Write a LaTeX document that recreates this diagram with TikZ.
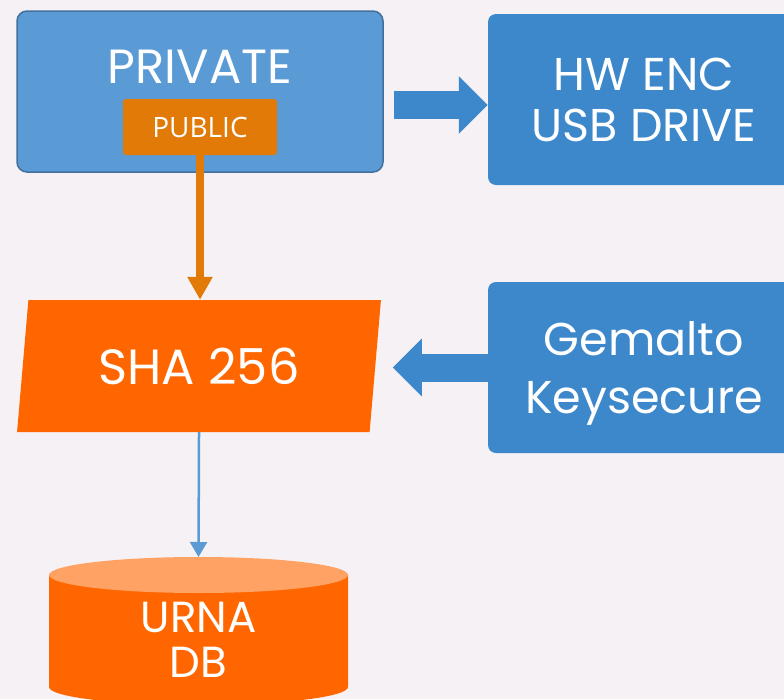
\documentclass[tikz,border=0pt]{standalone}
\usepackage{fontspec}
\setmainfont{Poppins}
\newfontfamily\pubfont{Open Sans}
\usetikzlibrary{shapes.geometric, arrows.meta, positioning, calc}
\definecolor{bgGray}{RGB}{246,241,245}
\definecolor{keyBlue}{RGB}{91,155,213}
\definecolor{keyBorder}{RGB}{65,113,156}
\definecolor{devBlue}{RGB}{61,135,203}
\definecolor{pubOrange}{RGB}{226,122,8}
\definecolor{hashOrange}{RGB}{255,102,0}
\definecolor{dbTop}{RGB}{255,162,100}

\begin{document}
\begin{tikzpicture}[
        x=1pt, y=-1pt,
        keybox/.style={rectangle, rounded corners=10pt, draw=keyBorder, line width=1.5pt, fill=keyBlue, minimum width=366pt, minimum height=161pt},
        pubbox/.style={rectangle, rounded corners=3pt, fill=pubOrange, minimum width=154pt, minimum height=56pt, text=white, font=\pubfont\fontsize{28}{32}\selectfont},
        devbox/.style={rectangle, rounded corners=8pt, fill=devBlue, minimum width=312pt, minimum height=171pt, align=center, text=white},
        hashbox/.style={trapezium, trapezium left angle=81, trapezium right angle=99, trapezium stretches=true, fill=hashOrange, minimum width=364pt, minimum height=132pt, text=white, font=\fontsize{49.5}{56}\selectfont},
        bigtext/.style={text=white, align=center, inner sep=0pt, font=\fontsize{48}{52}\selectfont},
        blockarrow/.style={devBlue, line width=28pt, -{Triangle[length=29pt, width=56pt]}},
        pubarrow/.style={pubOrange, line width=8pt, -{Triangle[length=23pt, width=24pt]}},
        dbarrow/.style={keyBlue, line width=2.5pt, -{Triangle[length=15pt, width=17pt]}}
    ]
        \useasboundingbox (0,0) rectangle (784,699);
        \fill[bgGray] (0,0) rectangle (784,699);
        \clip (0,0) rectangle (784,699);

        % Keys
        \node[keybox] (priv) at (200,91.5) {};
        \node[bigtext] (privlabel) at ($(priv.north)+(0,56.5)$) {PRIVATE};
        \node[pubbox] (pub) at (200,127) {PUBLIC};

        % Devices
        \node[devbox, font=\fontsize{46}{51}\selectfont] (hw) at (644,99.5) {HW ENC\\USB DRIVE};
        \node[devbox, text depth=0pt, font=\fontsize{46}{58}\selectfont] (gem) at (644,367.5) {Gemalto\\Keysecure};

        % Hash
        \node[hashbox] (sha) at (199,366) {SHA 256};

        % Database
        \fill[hashOrange] (49,575) -- (49,687) arc[start angle=180, end angle=0, x radius=149.5, y radius=18] -- (348,575) -- cycle;
        \fill[dbTop] (198.5,575) ellipse[x radius=149.5, y radius=18];
        \coordinate (dbtop) at (198.5,557);
        \node[bigtext, font=\fontsize{43.5}{45}\selectfont] (db) at (198.5,640) {URNA\\DB};

        % Arrows
        \draw[pubarrow] (pub.south) -- (pub.south |- sha.north);
        \draw[dbarrow] (sha.south) -- (dbtop);
        \draw[blockarrow] ($(priv.east |- hw.west)+(10,5.5)$) -- ($(hw.west)+(0,5.5)$);
        \draw[blockarrow] (gem.west) -- ($(gem.west)+(-95,0)$);
    \end{tikzpicture}
\end{document}
